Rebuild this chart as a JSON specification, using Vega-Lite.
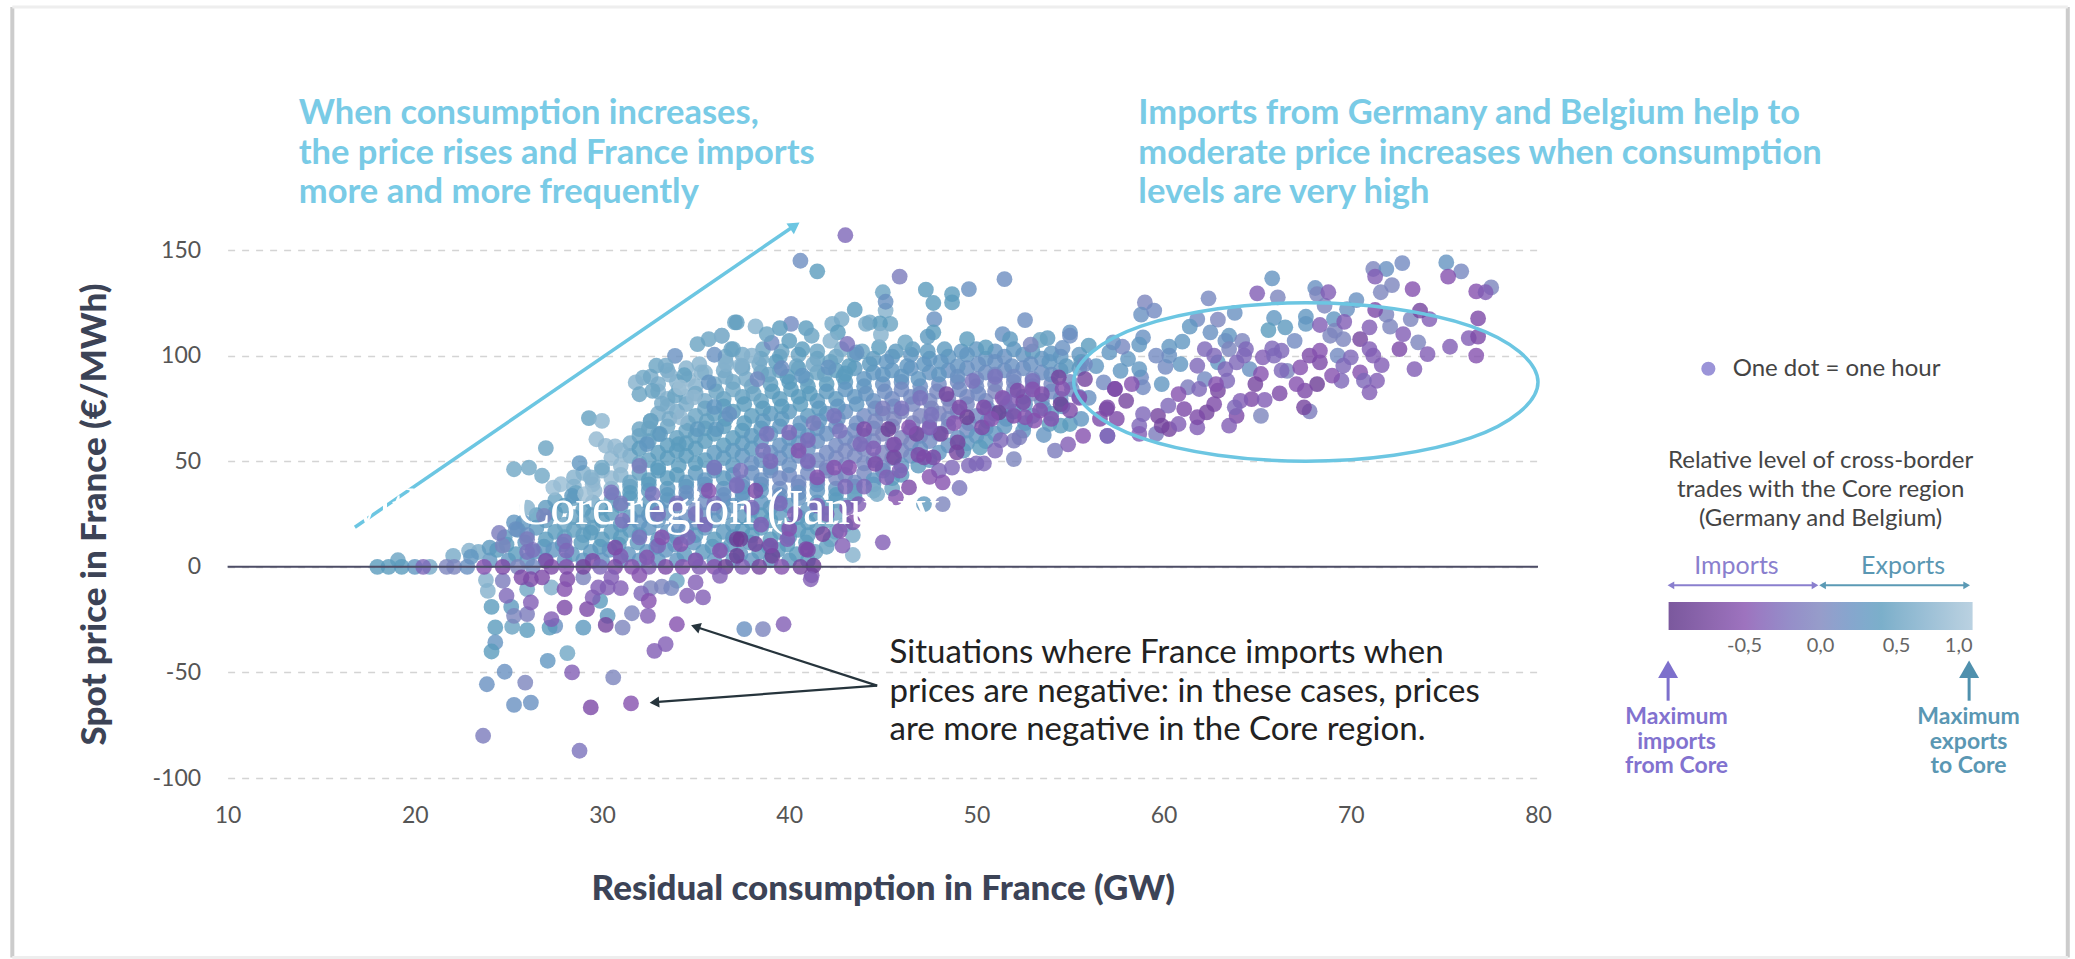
{"$schema":"https://vega.github.io/schema/vega-lite/v6.json","width":1310.4,"height":528,"autosize":{"type":"none"},"padding":{"left":227.6,"top":250,"right":537,"bottom":181},"background":"white",
"config":{"view":{"stroke":null},"font":"Lato","locale":{"number":{"decimal":",","thousands":".","grouping":[3],"currency":["","€"],"minus":"-"}}},
"encoding":{
"x":{"field":"x","type":"quantitative","scale":{"domain":[10,80],"nice":false,"zero":false},"axis":{"title":"Residual consumption in France (GW)","values":[10,20,30,40,50,60,70,80],"grid":false,"domain":false,"ticks":false,"labelFlush":false,"labelFontSize":23,"labelColor":"#555555","labelPadding":26,"titleFontSize":35,"titleFontWeight":900,"titleColor":"#3c4356","titlePadding":44,"labelFont":"Lato","titleFont":"Lato"}},
"y":{"field":"y","type":"quantitative","scale":{"domain":[-100,150],"nice":false,"zero":false},"axis":{"title":"Spot price in France (€/MWh)","values":[-100,-50,0,50,100,150],"grid":true,"gridDash":[7,7],"gridColor":"#d4d4d4","gridWidth":1.5,"domain":false,"ticks":false,"labelFlush":false,"labelFontSize":23,"labelColor":"#555555","labelPadding":27,"titleFontSize":35,"titleFontWeight":900,"titleColor":"#3c4356","titlePadding":40,"labelFont":"Lato","titleFont":"Lato"}}
},
"layer":[
{"data":{"values":[{"x":-1.5,"y":-185,"y2":265},{"x":108.3,"y":-185,"y2":265}]},"mark":{"type":"rule","color":"#cccccc","strokeWidth":4},"encoding":{"y2":{"field":"y2"}}},
{"data":{"values":[{"x":-1.5,"x2":108.3,"y":265},{"x":-1.5,"x2":108.3,"y":-185}]},"mark":{"type":"rule","color":"#eeeeee","strokeWidth":3},"encoding":{"x2":{"field":"x2"}}},
{"data":{"values":[
{"x":36.6,"y":99.5,"c":0.6},{"x":37.5,"y":100.5,"c":0.6},{"x":38.5,"y":98.5,"c":0.55},{"x":39.5,"y":99.5,"c":0.5},{"x":40.5,"y":100.5,"c":0.5},{"x":41.5,"y":98.5,"c":0.5},{"x":42.5,"y":99.5,"c":0.5},{"x":43.5,"y":100.5,"c":0.45},{"x":44.5,"y":98.5,"c":0.35},{"x":45.5,"y":99.5,"c":0.3},{"x":46.5,"y":100.5,"c":0.3},{"x":47.5,"y":98.5,"c":0.3},{"x":48.5,"y":99.5,"c":0.3},{"x":49.5,"y":100.5,"c":0.3},{"x":50.5,"y":98.5,"c":0.25},{"x":51.5,"y":99.5,"c":0.2},{"x":52.5,"y":100.5,"c":0.25},{"x":53.5,"y":98.5,"c":0.25},{"x":54.5,"y":99.5,"c":0.3},{"x":55.5,"y":100.5,"c":0.3},
{"x":33.5,"y":93,"c":0.6},{"x":34.5,"y":94,"c":0.7},{"x":35.5,"y":92,"c":0.7},{"x":36.5,"y":93,"c":0.6},{"x":37.5,"y":94,"c":0.6},{"x":38.5,"y":92,"c":0.5},{"x":39.5,"y":93,"c":0.5},{"x":40.5,"y":94,"c":0.45},{"x":41.5,"y":92,"c":0.5},{"x":42.5,"y":93,"c":0.4},{"x":43.5,"y":94,"c":0.35},{"x":44.5,"y":92,"c":0.3},{"x":45.5,"y":93,"c":0.3},{"x":46.5,"y":94,"c":0.25},{"x":47.5,"y":92,"c":0.25},{"x":48.5,"y":93,"c":0.2},{"x":49.5,"y":94,"c":0.2},{"x":50.5,"y":92,"c":0.15},{"x":51.5,"y":93,"c":0.15},{"x":52.5,"y":94,"c":0.15},{"x":53.5,"y":92,"c":0.15},{"x":54.5,"y":93,"c":0.25},{"x":55.5,"y":94,"c":0.3},
{"x":33,"y":86.5,"c":0.6},{"x":34,"y":87.5,"c":0.7},{"x":35,"y":85.5,"c":0.7},{"x":36,"y":86.5,"c":0.6},{"x":37,"y":87.5,"c":0.55},{"x":38,"y":85.5,"c":0.5},{"x":39,"y":86.5,"c":0.45},{"x":40,"y":87.5,"c":0.4},{"x":41,"y":85.5,"c":0.4},{"x":42,"y":86.5,"c":0.4},{"x":43,"y":87.5,"c":0.35},{"x":44,"y":85.5,"c":0.3},{"x":45,"y":86.5,"c":0.2},{"x":46,"y":87.5,"c":0.2},{"x":47,"y":85.5,"c":0.15},{"x":48,"y":86.5,"c":0.1},{"x":49,"y":87.5,"c":0.1},{"x":50,"y":85.5,"c":0.1},{"x":51,"y":86.5,"c":0.05},{"x":52,"y":87.5,"c":0.05},{"x":53,"y":85.5,"c":0.05},{"x":54,"y":86.5,"c":0.05},{"x":55,"y":87.5,"c":0.1},
{"x":33.5,"y":79.5,"c":0.7},{"x":34.5,"y":80.5,"c":0.7},{"x":35.5,"y":78.5,"c":0.6},{"x":36.5,"y":79.5,"c":0.45},{"x":37.5,"y":80.5,"c":0.45},{"x":38.5,"y":78.5,"c":0.45},{"x":39.5,"y":79.5,"c":0.4},{"x":40.5,"y":80.5,"c":0.4},{"x":41.5,"y":78.5,"c":0.35},{"x":42.5,"y":79.5,"c":0.35},{"x":43.5,"y":80.5,"c":0.3},{"x":44.5,"y":78.5,"c":0.2},{"x":45.5,"y":79.5,"c":0.1},{"x":46.5,"y":80.5,"c":0.1},{"x":47.5,"y":78.5,"c":0.05},{"x":48.5,"y":79.5,"c":0},{"x":49.5,"y":80.5,"c":0.05},{"x":50.5,"y":78.5,"c":0.05},{"x":51.5,"y":79.5,"c":0.1},{"x":52.5,"y":80.5,"c":0.15},{"x":53.5,"y":78.5,"c":0.15},{"x":54.5,"y":79.5,"c":0.2},{"x":55.5,"y":80.5,"c":0.2},
{"x":33,"y":72.5,"c":0.6},{"x":34,"y":73.5,"c":0.6},{"x":35,"y":71.5,"c":0.5},{"x":36,"y":72.5,"c":0.45},{"x":37,"y":73.5,"c":0.4},{"x":38,"y":71.5,"c":0.4},{"x":39,"y":72.5,"c":0.35},{"x":40,"y":73.5,"c":0.35},{"x":41,"y":71.5,"c":0.35},{"x":42,"y":72.5,"c":0.25},{"x":43,"y":73.5,"c":0.2},{"x":44,"y":71.5,"c":0.1},{"x":45,"y":72.5,"c":0.05},{"x":46,"y":73.5,"c":0},{"x":47,"y":71.5,"c":0},{"x":48,"y":72.5,"c":0},{"x":49,"y":73.5,"c":0.05},{"x":50,"y":71.5,"c":0.1},{"x":51,"y":72.5,"c":0.2},{"x":52,"y":73.5,"c":0.3},{"x":53,"y":71.5,"c":0.3},{"x":54,"y":72.5,"c":0.35},
{"x":32.5,"y":65.5,"c":0.5},{"x":33.5,"y":66.5,"c":0.55},{"x":34.5,"y":64.5,"c":0.5},{"x":35.5,"y":65.5,"c":0.45},{"x":36.5,"y":66.5,"c":0.4},{"x":37.5,"y":64.5,"c":0.4},{"x":38.5,"y":65.5,"c":0.35},{"x":39.5,"y":66.5,"c":0.3},{"x":40.5,"y":64.5,"c":0.3},{"x":41.5,"y":65.5,"c":0.25},{"x":42.5,"y":66.5,"c":0.2},{"x":43.5,"y":64.5,"c":0.1},{"x":44.5,"y":65.5,"c":0.05},{"x":45.5,"y":66.5,"c":0},{"x":46.5,"y":64.5,"c":0},{"x":47.5,"y":65.5,"c":0},{"x":48.5,"y":66.5,"c":0.05},{"x":49.5,"y":64.5,"c":0.1},{"x":50.5,"y":65.5,"c":0.2},{"x":51.5,"y":66.5,"c":0.3},{"x":52.5,"y":64.5,"c":0.3},
{"x":31.5,"y":58.5,"c":0.6},{"x":32.5,"y":59.5,"c":0.45},{"x":33.5,"y":57.5,"c":0.4},{"x":34.5,"y":58.5,"c":0.4},{"x":35.5,"y":59.5,"c":0.4},{"x":36.5,"y":57.5,"c":0.4},{"x":37.5,"y":58.5,"c":0.35},{"x":38.5,"y":59.5,"c":0.3},{"x":39.5,"y":57.5,"c":0.25},{"x":40.5,"y":58.5,"c":0.25},{"x":41.5,"y":59.5,"c":0.2},{"x":42.5,"y":57.5,"c":0.1},{"x":43.5,"y":58.5,"c":0.05},{"x":44.5,"y":59.5,"c":0.05},{"x":45.5,"y":57.5,"c":0},{"x":46.5,"y":58.5,"c":0.05},{"x":47.5,"y":59.5,"c":0.1},{"x":48.5,"y":57.5,"c":0.2},{"x":49.5,"y":58.5,"c":0.3},{"x":50.5,"y":59.5,"c":0.35},
{"x":30.5,"y":51.5,"c":0.8},{"x":31.5,"y":52.5,"c":0.6},{"x":32.5,"y":50.5,"c":0.45},{"x":33.5,"y":51.5,"c":0.4},{"x":34.5,"y":52.5,"c":0.4},{"x":35.5,"y":50.5,"c":0.4},{"x":36.5,"y":51.5,"c":0.35},{"x":37.5,"y":52.5,"c":0.3},{"x":38.5,"y":50.5,"c":0.25},{"x":39.5,"y":51.5,"c":0.2},{"x":40.5,"y":52.5,"c":0.15},{"x":41.5,"y":50.5,"c":0.1},{"x":42.5,"y":51.5,"c":0.05},{"x":43.5,"y":52.5,"c":0.05},{"x":44.5,"y":50.5,"c":0.05},{"x":45.5,"y":51.5,"c":0.05},{"x":46.5,"y":52.5,"c":0.15},{"x":47.5,"y":50.5,"c":0.3},
{"x":29,"y":44.5,"c":0.7},{"x":30,"y":45.5,"c":0.75},{"x":31,"y":43.5,"c":0.7},{"x":32,"y":44.5,"c":0.45},{"x":33,"y":45.5,"c":0.4},{"x":34,"y":43.5,"c":0.4},{"x":35,"y":44.5,"c":0.35},{"x":36,"y":45.5,"c":0.3},{"x":37,"y":43.5,"c":0.25},{"x":38,"y":44.5,"c":0.2},{"x":39,"y":45.5,"c":0.15},{"x":40,"y":43.5,"c":0.1},{"x":41,"y":44.5,"c":0.1},{"x":42,"y":45.5,"c":0.05},{"x":43,"y":43.5,"c":0.05},{"x":44,"y":44.5,"c":0.05},{"x":45,"y":45.5,"c":0.2},{"x":46,"y":43.5,"c":0.35},
{"x":28.5,"y":38,"c":0.7},{"x":29.5,"y":39,"c":0.8},{"x":30.5,"y":37,"c":0.75},{"x":31.5,"y":38,"c":0.5},{"x":32.5,"y":39,"c":0.4},{"x":33.5,"y":37,"c":0.35},{"x":34.5,"y":38,"c":0.3},{"x":35.5,"y":39,"c":0.25},{"x":36.5,"y":37,"c":0.25},{"x":37.5,"y":38,"c":0.25},{"x":38.5,"y":39,"c":0.25},{"x":39.5,"y":37,"c":0.15},{"x":40.5,"y":38,"c":0.15},{"x":41.5,"y":39,"c":0.2},{"x":42.5,"y":37,"c":0.25},{"x":43.5,"y":38,"c":0.3},{"x":44.5,"y":39,"c":0.4},{"x":45.5,"y":37,"c":0.5},
{"x":27.5,"y":31.5,"c":0.5},{"x":28.5,"y":32.5,"c":0.5},{"x":29.5,"y":30.5,"c":0.6},{"x":30.5,"y":31.5,"c":0.5},{"x":31.5,"y":32.5,"c":0.4},{"x":32.5,"y":30.5,"c":0.35},{"x":33.5,"y":31.5,"c":0.3},{"x":34.5,"y":32.5,"c":0.25},{"x":35.5,"y":30.5,"c":0.15},{"x":36.5,"y":31.5,"c":0.2},{"x":37.5,"y":32.5,"c":0.3},{"x":38.5,"y":30.5,"c":0.3},{"x":39.5,"y":31.5,"c":0.3},{"x":40.5,"y":32.5,"c":0.25},{"x":41.5,"y":30.5,"c":0.3},{"x":42.5,"y":31.5,"c":0.35},{"x":43.5,"y":32.5,"c":0.5},
{"x":26.5,"y":24.5,"c":0.4},{"x":27.5,"y":25.5,"c":0.4},{"x":28.5,"y":23.5,"c":0.45},{"x":29.5,"y":24.5,"c":0.45},{"x":30.5,"y":25.5,"c":0.4},{"x":31.5,"y":23.5,"c":0.35},{"x":32.5,"y":24.5,"c":0.3},{"x":33.5,"y":25.5,"c":0.25},{"x":34.5,"y":23.5,"c":0.2},{"x":35.5,"y":24.5,"c":0.2},{"x":36.5,"y":25.5,"c":0.3},{"x":37.5,"y":23.5,"c":0.35},{"x":38.5,"y":24.5,"c":0.4},{"x":39.5,"y":25.5,"c":0.35},{"x":40.5,"y":23.5,"c":0.35},{"x":41.5,"y":24.5,"c":0.4},{"x":42.5,"y":25.5,"c":0.55},
{"x":25.5,"y":17.5,"c":0.3},{"x":26.5,"y":18.5,"c":0.35},{"x":27.5,"y":16.5,"c":0.4},{"x":28.5,"y":17.5,"c":0.45},{"x":29.5,"y":18.5,"c":0.45},{"x":30.5,"y":16.5,"c":0.4},{"x":31.5,"y":17.5,"c":0.35},{"x":32.5,"y":18.5,"c":0.3},{"x":33.5,"y":16.5,"c":0.3},{"x":34.5,"y":17.5,"c":0.25},{"x":35.5,"y":18.5,"c":0.3},{"x":36.5,"y":16.5,"c":0.35},{"x":37.5,"y":17.5,"c":0.4},{"x":38.5,"y":18.5,"c":0.4},{"x":39.5,"y":16.5,"c":0.4},{"x":40.5,"y":17.5,"c":0.4},{"x":41.5,"y":18.5,"c":0.45},{"x":42.5,"y":16.5,"c":0.55},
{"x":24.9,"y":10.5,"c":0.4},{"x":25.9,"y":11.5,"c":0.35},{"x":26.9,"y":9.5,"c":0.3},{"x":27.9,"y":10.5,"c":0.35},{"x":28.9,"y":11.5,"c":0.4},{"x":29.9,"y":9.5,"c":0.4},{"x":30.9,"y":10.5,"c":0.35},{"x":31.9,"y":11.5,"c":0.35},{"x":32.9,"y":9.5,"c":0.3},{"x":33.9,"y":10.5,"c":0.3},{"x":34.9,"y":11.5,"c":0.3},{"x":35.9,"y":9.5,"c":0.35},{"x":36.9,"y":10.5,"c":0.35},{"x":37.9,"y":11.5,"c":0.35},{"x":38.9,"y":9.5,"c":0.4},{"x":39.9,"y":10.5,"c":0.4},{"x":40.9,"y":11.5,"c":0.4},{"x":42,"y":9.5,"c":0.45},
{"x":24,"y":3,"c":0.3},{"x":25,"y":3,"c":0.3},{"x":26,"y":3,"c":0.3},{"x":27,"y":3,"c":0.3},{"x":28,"y":3,"c":0.3},{"x":29,"y":3,"c":0.3},{"x":30,"y":3,"c":0.3},{"x":31,"y":3,"c":0.3},{"x":32,"y":3,"c":0.3},{"x":33,"y":3,"c":0.3},{"x":34,"y":3,"c":0.3},{"x":35,"y":3,"c":0.3},{"x":36,"y":3,"c":0.3},{"x":37,"y":3,"c":0.3},{"x":38,"y":3,"c":0.3},{"x":39,"y":3,"c":0.3},{"x":40,"y":3,"c":0.35},{"x":41,"y":3,"c":0.4},
{"x":38.6,"y":103,"c":0.5},{"x":39.6,"y":102,"c":0.5},{"x":40.7,"y":103,"c":0.4},{"x":41.5,"y":102,"c":0.5},{"x":42.8,"y":103,"c":0.6},{"x":43.9,"y":102,"c":0.5},{"x":44.8,"y":104,"c":0.4},{"x":45.7,"y":102,"c":0.35},{"x":46.6,"y":103,"c":0.35},{"x":47.4,"y":102,"c":0.35},{"x":48.3,"y":103,"c":0.35},{"x":49.2,"y":102,"c":0.3},{"x":50,"y":103,"c":0.3},{"x":51,"y":102,"c":0.25},{"x":52,"y":103,"c":0.3},{"x":53,"y":102,"c":0.35},{"x":54,"y":101,"c":0.3},
{"x":35.2,"y":96,"c":0.7},{"x":36.6,"y":97,"c":0.7},{"x":37.5,"y":95,"c":0.6},{"x":38.4,"y":96,"c":0.6},{"x":39.3,"y":97,"c":0.4},{"x":40.4,"y":95,"c":0.5},{"x":41.3,"y":96,"c":0.6},{"x":42.2,"y":97,"c":0.5},{"x":43.2,"y":95,"c":0.4},{"x":44.3,"y":96,"c":0.35},{"x":45.2,"y":97,"c":0.3},{"x":46.3,"y":95,"c":0.3},{"x":47.2,"y":96,"c":0.3},{"x":48.1,"y":97,"c":0.3},{"x":49,"y":95,"c":0.25},{"x":50.1,"y":96,"c":0.2},{"x":51,"y":97,"c":0.2},{"x":51.9,"y":95,"c":0.2},{"x":52.9,"y":96,"c":0.2},{"x":53.9,"y":97,"c":0.3},{"x":54.8,"y":95,"c":0.35},{"x":55.6,"y":97,"c":0.35},
{"x":32.6,"y":90,"c":0.6},{"x":33.6,"y":91,"c":0.7},{"x":34.6,"y":89,"c":0.8},{"x":36.6,"y":90,"c":0.6},{"x":37.7,"y":89,"c":0.6},{"x":38.9,"y":91,"c":0.5},{"x":39.9,"y":90,"c":0.4},{"x":40.9,"y":89,"c":0.5},{"x":41.9,"y":91,"c":0.5},{"x":42.9,"y":90,"c":0.4},{"x":44,"y":89,"c":0.3},{"x":45,"y":91,"c":0.3},{"x":46,"y":90,"c":0.3},{"x":46.9,"y":89,"c":0.3},{"x":48,"y":91,"c":0.3},{"x":49,"y":90,"c":0.2},{"x":50,"y":89,"c":0.1},{"x":51,"y":91,"c":0.1},{"x":52,"y":90,"c":0.1},{"x":53,"y":89,"c":0.1},{"x":54,"y":91,"c":0.2},
{"x":33,"y":83,"c":0.7},{"x":34.1,"y":84,"c":0.7},{"x":35,"y":82,"c":0.6},{"x":36.1,"y":83,"c":0.5},{"x":37,"y":84,"c":0.55},{"x":38.1,"y":82,"c":0.5},{"x":39.1,"y":83,"c":0.4},{"x":40.1,"y":84,"c":0.4},{"x":41.1,"y":82,"c":0.4},{"x":42,"y":83,"c":0.35},{"x":43,"y":84,"c":0.3},{"x":44.1,"y":82,"c":0.25},{"x":45.1,"y":83,"c":0.15},{"x":46,"y":84,"c":0.1},{"x":47,"y":82,"c":0.1},{"x":47.9,"y":83,"c":0.05},{"x":49.1,"y":84,"c":0.1},{"x":50.1,"y":82,"c":0.1},{"x":51,"y":83,"c":0},{"x":52,"y":84,"c":0.05},{"x":53,"y":82,"c":0},{"x":54,"y":83,"c":0.1},{"x":55.1,"y":84,"c":0.1},
{"x":33.5,"y":76,"c":0.7},{"x":34.5,"y":77,"c":0.6},{"x":35.5,"y":75,"c":0.5},{"x":36.5,"y":76,"c":0.4},{"x":37.6,"y":77,"c":0.4},{"x":38.6,"y":75,"c":0.4},{"x":39.6,"y":76,"c":0.4},{"x":40.6,"y":77,"c":0.4},{"x":41.6,"y":75,"c":0.35},{"x":42.6,"y":76,"c":0.3},{"x":43.6,"y":77,"c":0.3},{"x":44.6,"y":75,"c":0.15},{"x":45.6,"y":76,"c":0.1},{"x":46.6,"y":77,"c":0.05},{"x":47.6,"y":75,"c":0},{"x":48.6,"y":76,"c":0},{"x":49.5,"y":77,"c":0.05},{"x":50.6,"y":75,"c":0.1},{"x":51.6,"y":76,"c":0.2},{"x":52.6,"y":77,"c":0.25},{"x":53.6,"y":75,"c":0.25},{"x":54.6,"y":76,"c":0.3},
{"x":32.6,"y":69,"c":0.5},{"x":33.6,"y":70,"c":0.6},{"x":34.6,"y":68,"c":0.5},{"x":35.6,"y":69,"c":0.45},{"x":36.6,"y":70,"c":0.4},{"x":37.6,"y":68,"c":0.4},{"x":38.6,"y":69,"c":0.35},{"x":39.6,"y":70,"c":0.35},{"x":40.6,"y":68,"c":0.3},{"x":41.6,"y":69,"c":0.3},{"x":42.6,"y":70,"c":0.2},{"x":43.6,"y":68,"c":0.15},{"x":44.6,"y":69,"c":0.05},{"x":45.6,"y":70,"c":0},{"x":46.6,"y":68,"c":0},{"x":47.5,"y":69,"c":0},{"x":48.5,"y":70,"c":0.05},{"x":49.6,"y":68,"c":0.1},{"x":50.6,"y":69,"c":0.2},{"x":51.6,"y":70,"c":0.3},{"x":52.6,"y":68,"c":0.3},
{"x":32,"y":62,"c":0.5},{"x":33,"y":63,"c":0.5},{"x":34,"y":61,"c":0.45},{"x":35,"y":62,"c":0.45},{"x":36,"y":63,"c":0.4},{"x":37,"y":61,"c":0.4},{"x":38,"y":62,"c":0.35},{"x":39,"y":63,"c":0.3},{"x":40,"y":61,"c":0.3},{"x":41,"y":62,"c":0.3},{"x":42,"y":63,"c":0.2},{"x":43,"y":61,"c":0.1},{"x":44,"y":62,"c":0.05},{"x":45,"y":63,"c":0},{"x":46,"y":61,"c":0},{"x":47,"y":62,"c":0.05},{"x":48,"y":63,"c":0.1},{"x":49,"y":61,"c":0.2},{"x":50,"y":62,"c":0.3},{"x":51,"y":63,"c":0.3},
{"x":31,"y":55,"c":0.7},{"x":32,"y":56,"c":0.4},{"x":33,"y":54,"c":0.4},{"x":34,"y":55,"c":0.4},{"x":35,"y":56,"c":0.4},{"x":36,"y":54,"c":0.35},{"x":37,"y":55,"c":0.35},{"x":38,"y":56,"c":0.35},{"x":39,"y":54,"c":0.2},{"x":40,"y":55,"c":0.25},{"x":41,"y":56,"c":0.2},{"x":42,"y":54,"c":0.1},{"x":43,"y":55,"c":0.05},{"x":44,"y":56,"c":0.05},{"x":45,"y":54,"c":0},{"x":46,"y":55,"c":0.05},{"x":47,"y":56,"c":0.2},{"x":48,"y":54,"c":0.3},{"x":49.3,"y":55,"c":0.35},
{"x":31,"y":48,"c":0.8},{"x":32,"y":49,"c":0.5},{"x":33,"y":47,"c":0.4},{"x":34.1,"y":48,"c":0.4},{"x":35,"y":49,"c":0.4},{"x":36,"y":47,"c":0.35},{"x":37,"y":48,"c":0.35},{"x":38,"y":49,"c":0.2},{"x":39,"y":47,"c":0.2},{"x":40,"y":48,"c":0.2},{"x":41,"y":49,"c":0.1},{"x":42,"y":47,"c":0.05},{"x":43,"y":48,"c":0.05},{"x":44,"y":49,"c":0.05},{"x":45,"y":47,"c":0.1},{"x":46,"y":48,"c":0.3},
{"x":29.5,"y":41,"c":0.8},{"x":30.5,"y":42,"c":0.8},{"x":31.5,"y":40,"c":0.5},{"x":32.5,"y":41,"c":0.4},{"x":33.5,"y":42,"c":0.4},{"x":34.5,"y":40,"c":0.35},{"x":35.5,"y":41,"c":0.3},{"x":36.5,"y":42,"c":0.35},{"x":37.5,"y":40,"c":0.2},{"x":38.5,"y":41,"c":0.2},{"x":39.5,"y":42,"c":0.1},{"x":40.5,"y":40,"c":0.1},{"x":41.5,"y":41,"c":0.1},{"x":42.5,"y":42,"c":0.05},{"x":43.5,"y":40,"c":0.1},{"x":44.5,"y":41,"c":0.3},{"x":45.5,"y":42,"c":0.4},
{"x":28.6,"y":35,"c":0.5},{"x":29.6,"y":36,"c":0.8},{"x":30.6,"y":34,"c":0.55},{"x":31.5,"y":35,"c":0.4},{"x":32.5,"y":36,"c":0.35},{"x":33.5,"y":34,"c":0.35},{"x":34.5,"y":35,"c":0.2},{"x":35.5,"y":36,"c":0.15},{"x":36.5,"y":34,"c":0.2},{"x":37.5,"y":35,"c":0.3},{"x":38.5,"y":36,"c":0.3},{"x":39.5,"y":34,"c":0.2},{"x":40.5,"y":35,"c":0.2},{"x":41.5,"y":36,"c":0.3},{"x":42.5,"y":34,"c":0.4},{"x":43.5,"y":35,"c":0.5},{"x":44.5,"y":36,"c":0.7},
{"x":27,"y":28,"c":0.35},{"x":28,"y":29,"c":0.4},{"x":29,"y":27,"c":0.4},{"x":30,"y":28,"c":0.45},{"x":31,"y":29,"c":0.4},{"x":32,"y":27,"c":0.35},{"x":33,"y":28,"c":0.3},{"x":34,"y":29,"c":0.2},{"x":35,"y":27,"c":0.1},{"x":36,"y":28,"c":0.15},{"x":37,"y":29,"c":0.3},{"x":38,"y":27,"c":0.35},{"x":39,"y":28,"c":0.35},{"x":40,"y":29,"c":0.3},{"x":41,"y":27,"c":0.3},{"x":42,"y":28,"c":0.4},{"x":43,"y":29,"c":0.6},
{"x":25.8,"y":21,"c":0.3},{"x":27,"y":22,"c":0.35},{"x":28,"y":20,"c":0.5},{"x":29,"y":21,"c":0.5},{"x":30,"y":22,"c":0.4},{"x":31,"y":20,"c":0.35},{"x":32,"y":21,"c":0.3},{"x":33,"y":22,"c":0.3},{"x":34,"y":20,"c":0.2},{"x":35,"y":21,"c":0.2},{"x":36,"y":22,"c":0.3},{"x":37,"y":20,"c":0.35},{"x":38,"y":21,"c":0.4},{"x":39,"y":22,"c":0.4},{"x":40,"y":20,"c":0.4},{"x":41,"y":21,"c":0.4},{"x":42,"y":22,"c":0.5},{"x":43,"y":20,"c":0.6},
{"x":24.8,"y":14,"c":0.35},{"x":26,"y":15,"c":0.2},{"x":27,"y":13,"c":0.4},{"x":28,"y":14,"c":0.45},{"x":29,"y":15,"c":0.45},{"x":30,"y":13,"c":0.4},{"x":31,"y":14,"c":0.4},{"x":32,"y":15,"c":0.35},{"x":33,"y":13,"c":0.35},{"x":34,"y":14,"c":0.3},{"x":35,"y":15,"c":0.35},{"x":36,"y":13,"c":0.4},{"x":37,"y":14,"c":0.35},{"x":38,"y":15,"c":0.4},{"x":39,"y":13,"c":0.4},{"x":40,"y":14,"c":0.4},{"x":41,"y":15,"c":0.4},{"x":42.2,"y":13,"c":0.5},
{"x":23.4,"y":7,"c":0.6},{"x":24.4,"y":8,"c":0.4},{"x":25.4,"y":6,"c":0.4},{"x":26.4,"y":7,"c":0.3},{"x":27.4,"y":8,"c":0.3},{"x":28.4,"y":6,"c":0.35},{"x":29.4,"y":7,"c":0.35},{"x":30.4,"y":8,"c":0.3},{"x":31.4,"y":6,"c":0.3},{"x":32.4,"y":7,"c":0.3},{"x":33.4,"y":8,"c":0.3},{"x":34.4,"y":6,"c":0.35},{"x":35.4,"y":7,"c":0.35},{"x":36.4,"y":8,"c":0.3},{"x":37.4,"y":6,"c":0.3},{"x":38.4,"y":7,"c":0.35},{"x":39.4,"y":8,"c":0.4},{"x":40.4,"y":6,"c":0.4},{"x":41.4,"y":7,"c":0.5},
{"x":22.05,"y":5.2,"c":0.6},{"x":22.9,"y":7.6,"c":0.7},{"x":23,"y":4.7,"c":0.3},{"x":24,"y":9.1,"c":0.35},{"x":19.1,"y":3.1,"c":0.5},{"x":18,"y":0,"c":0.4},{"x":18.6,"y":0,"c":0.4},{"x":19.3,"y":0,"c":0.4},{"x":20,"y":0,"c":0.3},{"x":20.8,"y":0,"c":0.6},{"x":21.7,"y":0,"c":0},{"x":22.1,"y":0,"c":0},{"x":22.8,"y":0,"c":0.2},
{"x":29.3,"y":70.4,"c":0.45},{"x":30,"y":69.1,"c":0.75},{"x":29.7,"y":60.4,"c":0.8},{"x":30.2,"y":57.3,"c":0.8},{"x":30.7,"y":57,"c":0.8},{"x":27,"y":56.2,"c":0.5},{"x":25.3,"y":46.2,"c":0.55},{"x":26.1,"y":47,"c":0.55},{"x":26.8,"y":43.1,"c":0.55},{"x":28.8,"y":49.1,"c":0.3},{"x":30,"y":47,"c":0.55},{"x":27.8,"y":39.1,"c":0.85},{"x":27.4,"y":37.5,"c":0.85},{"x":28.4,"y":33.6,"c":0.35},{"x":29.1,"y":34.4,"c":0.9},{"x":28.5,"y":42.3,"c":0.7},{"x":29.4,"y":42.3,"c":0.7},{"x":26,"y":28,"c":0.7},{"x":25.3,"y":21,"c":0.3},{"x":25.4,"y":17.8,"c":0.2},
{"x":33.9,"y":99.9,"c":0.2},{"x":36.4,"y":109.4,"c":0.6},{"x":35.7,"y":107.8,"c":0.5},{"x":35.1,"y":105.4,"c":0.5},{"x":37.1,"y":115.7,"c":0.5},{"x":36,"y":100.4,"c":0.2},{"x":36.9,"y":103,"c":0.5},{"x":32.9,"y":95.2,"c":0.5},{"x":33.4,"y":95.2,"c":0.6},{"x":32.2,"y":89.6,"c":0.55},{"x":31.8,"y":87.3,"c":0.7},{"x":34.4,"y":90.7,"c":0.45},{"x":35.3,"y":92,"c":0.7},{"x":35.7,"y":87.3,"c":0.25},{"x":32,"y":81.7,"c":0.5},{"x":32.7,"y":83.3,"c":0.5},{"x":33.9,"y":81,"c":0.5},{"x":33.2,"y":77.3,"c":0.6},{"x":36,"y":75.7,"c":0.3},{"x":34.2,"y":84.9,"c":0.9},{"x":34.9,"y":80.2,"c":0.8},{"x":36.8,"y":72.3,"c":0.2},{"x":32.6,"y":69.1,"c":0.5},{"x":33.1,"y":62.8,"c":0.35},{"x":32.4,"y":58.1,"c":0.3},{"x":32,"y":65.2,"c":0.5},{"x":34.1,"y":58.1,"c":0.4},{"x":35.1,"y":65.2,"c":0.35},{"x":36.1,"y":65.2,"c":0.35},{"x":34.2,"y":70.7,"c":0.8},
{"x":40.6,"y":144.9,"c":0.15},{"x":41.5,"y":139.9,"c":0.4},{"x":51.5,"y":136.2,"c":0.15},{"x":49.6,"y":131.5,"c":0.2},{"x":47.3,"y":131.2,"c":0.4},{"x":48.7,"y":129.1,"c":0.4},{"x":48.7,"y":125.2,"c":0.4},{"x":47.7,"y":124.9,"c":0.4},{"x":45,"y":130,"c":0.5},{"x":45.15,"y":121.3,"c":0.7},{"x":45.15,"y":125.5,"c":0.2},{"x":43.5,"y":121.7,"c":0.4},{"x":52.6,"y":116.8,"c":0.15},{"x":55,"y":111,"c":0.25},{"x":55,"y":109.4,"c":0.15},{"x":47.75,"y":117.3,"c":0.2},{"x":47.7,"y":111,"c":0.4},{"x":37.2,"y":115.7,"c":0.45},{"x":38.2,"y":113.8,"c":0.7},{"x":40.1,"y":115,"c":0.1},{"x":39.5,"y":113,"c":0.4},{"x":40.9,"y":113,"c":0.4},{"x":41.2,"y":109.4,"c":0.5},{"x":42.8,"y":117.3,"c":0.6},{"x":42.3,"y":115,"c":0.6},{"x":44.3,"y":115.7,"c":0.6},{"x":45.4,"y":115,"c":0.5},{"x":44.85,"y":115.3,"c":0.4},{"x":44.1,"y":115,"c":0.6},{"x":44.9,"y":109.9,"c":0.7},{"x":42.6,"y":111,"c":0.4},{"x":42.2,"y":107,"c":0.7},{"x":39.06,"y":106,"c":0.1},{"x":40,"y":107,"c":0.4},{"x":38.8,"y":110.2,"c":0.5},{"x":36.4,"y":109.4,"c":0.7},{"x":46.2,"y":106.3,"c":0.5},{"x":47.4,"y":109,"c":0.35},{"x":49.5,"y":107.8,"c":0.4},{"x":50.5,"y":103.9,"c":0.4},{"x":51.4,"y":110.2,"c":0.2},{"x":51.8,"y":107.8,"c":0.35},{"x":53.8,"y":108.3,"c":0.35},{"x":53.4,"y":107.4,"c":0.5},{"x":54.6,"y":103.6,"c":0.2},{"x":56,"y":104.7,"c":0.4},{"x":37,"y":103.1,"c":0.5},{"x":38,"y":100,"c":0.7},{"x":39.6,"y":94,"c":0.15},{"x":38.3,"y":88.9,"c":0.1},{"x":40.7,"y":90.5,"c":0.3},{"x":43,"y":91.6,"c":0.4},{"x":43.6,"y":101.5,"c":0.25},{"x":42.1,"y":94.4,"c":0.25},{"x":37.4,"y":95.2,"c":0.7},{"x":36.65,"y":96,"c":0.7},
{"x":53.9,"y":67.6,"c":0.4},{"x":55,"y":67.6,"c":0.4},{"x":55.6,"y":70,"c":0.3},{"x":54.5,"y":66.8,"c":0.4},{"x":53.6,"y":62.4,"c":0.25},{"x":50.2,"y":56.5,"c":0.4},{"x":46.9,"y":47.9,"c":0.35},{"x":44.7,"y":34.4,"c":0.6},{"x":47.2,"y":29.7,"c":0.35},{"x":43.4,"y":5.6,"c":0.7},{"x":29.4,"y":16.2,"c":0.4},{"x":43.4,"y":15,"c":0.6},
{"x":23.8,"y":-6.3,"c":0.7},{"x":23.9,"y":-11.4,"c":0.7},{"x":26,"y":-10.6,"c":0.55},{"x":27.3,"y":-9.8,"c":0.65},{"x":34,"y":-6.6,"c":0.5},{"x":24.1,"y":-19,"c":0.4},{"x":25.15,"y":-19,"c":0.35},{"x":29.9,"y":-16.1,"c":0.4},{"x":30.3,"y":-23.2,"c":0.35},{"x":24.3,"y":-28.7,"c":0.4},{"x":25.2,"y":-28.4,"c":0.5},{"x":26,"y":-30,"c":0.4},{"x":27.5,"y":-28,"c":0.2},{"x":27.2,"y":-28.8,"c":0.4},{"x":29,"y":-28.8,"c":0.35},{"x":24.3,"y":-35.8,"c":0.25},{"x":24.1,"y":-40.1,"c":0.4},{"x":27.1,"y":-44.5,"c":0.3},{"x":28.15,"y":-40.9,"c":0.55},{"x":24.8,"y":-49.7,"c":0.2},{"x":23.85,"y":-55.6,"c":0.2},{"x":25.3,"y":-65.4,"c":0.2},{"x":26.2,"y":-64.3,"c":0.2},{"x":37.6,"y":-29.5,"c":0.2},
{"x":72.75,"y":143.8,"c":0.1},{"x":75.1,"y":144.1,"c":0.25},{"x":75.9,"y":139.9,"c":0.05},{"x":71.2,"y":141,"c":0},{"x":71.9,"y":141,"c":0.2},{"x":72.2,"y":133.4,"c":0},{"x":71.6,"y":130,"c":0},{"x":77.5,"y":132.3,"c":0},{"x":73.6,"y":106.3,"c":0},{"x":73.2,"y":117.3,"c":0},{"x":72.1,"y":113.7,"c":0},{"x":71.9,"y":119.4,"c":0},{"x":70.3,"y":126.3,"c":0.2},{"x":69.8,"y":122,"c":0.2},{"x":69.1,"y":117.3,"c":0.3},{"x":68.1,"y":132,"c":0.2},{"x":68.2,"y":129.1,"c":0},{"x":68.6,"y":123.6,"c":0},{"x":65.8,"y":136.6,"c":0.25},{"x":66.1,"y":127.6,"c":0},{"x":62.4,"y":127.1,"c":0.05},{"x":63.8,"y":120.2,"c":0.2},{"x":62.9,"y":117,"c":0},{"x":61.8,"y":117.3,"c":0.1},{"x":65.9,"y":117.8,"c":0.3},{"x":67.6,"y":118.4,"c":0.3},{"x":66.5,"y":113.4,"c":0.35},{"x":65.6,"y":112.1,"c":0.4},{"x":67.6,"y":115,"c":0.3},{"x":59,"y":125.2,"c":0},{"x":58.8,"y":119.4,"c":0.2},{"x":59.5,"y":121.3,"c":0.1},{"x":58.9,"y":108.6,"c":0.2},{"x":61.4,"y":113.7,"c":0.3},{"x":62.5,"y":111,"c":0.2},{"x":63.5,"y":109.4,"c":0.3},{"x":63.3,"y":107,"c":0.2},{"x":61,"y":106.6,"c":0.3},{"x":60.3,"y":104.2,"c":0.3},{"x":64.2,"y":107,"c":0},{"x":63.5,"y":103.1,"c":0},{"x":67,"y":107,"c":0.1},{"x":68.9,"y":109.4,"c":0},{"x":69.6,"y":107.8,"c":0},{"x":69.15,"y":111.8,"c":0},{"x":69.3,"y":100,"c":0.1},{"x":66.6,"y":92.8,"c":0},{"x":67.8,"y":73.6,"c":-0.1},{"x":65.2,"y":71.5,"c":0},{"x":61.3,"y":85,"c":-0.1},{"x":62.2,"y":88.9,"c":0.1},{"x":60.9,"y":96,"c":0.3},{"x":60.1,"y":94.7,"c":0.1},{"x":60.3,"y":100,"c":0.2},{"x":59.9,"y":86.5,"c":0.3},{"x":59.6,"y":62.9,"c":-0.1},{"x":58.9,"y":85,"c":0.1},{"x":58.8,"y":89.7,"c":0.1},{"x":57.7,"y":92.8,"c":0.3},{"x":58.7,"y":93.6,"c":0.3},{"x":56.8,"y":87.3,"c":0.1},{"x":58.1,"y":98.4,"c":0.3},{"x":57.1,"y":101.5,"c":0.3},{"x":57.8,"y":104.2,"c":0.05},{"x":58.7,"y":105.2,"c":0.3},{"x":57.3,"y":106.3,"c":0.2},{"x":59.6,"y":100,"c":0.1},{"x":62.9,"y":96.8,"c":0.3},{"x":64.6,"y":93.6,"c":0.2},{"x":56.4,"y":95,"c":0.3},{"x":56,"y":80,"c":0.2},{"x":55.8,"y":96,"c":0.1},
{"x":32,"y":47.8,"c":-0.1},{"x":26.9,"y":24.1,"c":0},{"x":24.7,"y":10,"c":0},{"x":26,"y":13.1,"c":-0.1},{"x":23.65,"y":-80,"c":-0.1},{"x":28.8,"y":-87.1,"c":-0.2},{"x":25.9,"y":-54.8,"c":0},{"x":30.6,"y":-52.4,"c":0},{"x":38.6,"y":-29.5,"c":0},{"x":31.1,"y":-28.8,"c":0},{"x":31.6,"y":-22,"c":0},{"x":25.3,"y":-23.2,"c":0},{"x":26,"y":-22.4,"c":-0.1},{"x":24.7,"y":-6.6,"c":-0.1},{"x":32.6,"y":-10.1,"c":0},{"x":33.2,"y":-9.4,"c":0},{"x":33.7,"y":-10.1,"c":0.05},{"x":29,"y":-5,"c":0},
{"x":45.9,"y":137.4,"c":-0.1},{"x":43.1,"y":105.5,"c":-0.2},{"x":52.9,"y":105.2,"c":0},{"x":54.2,"y":55,"c":-0.1},{"x":52,"y":51,"c":0},{"x":52.3,"y":61.3,"c":-0.1},{"x":52,"y":59.7,"c":-0.1},{"x":49.1,"y":37.3,"c":-0.15},{"x":48.2,"y":29.7,"c":0},
{"x":51,"y":55,"c":-0.3},{"x":51.3,"y":60,"c":-0.3},{"x":49.6,"y":47.9,"c":-0.3},{"x":50,"y":48.9,"c":-0.3},{"x":50.4,"y":48.9,"c":-0.3},{"x":48.7,"y":47,"c":-0.3},{"x":48,"y":45.5,"c":-0.3},{"x":54.9,"y":58,"c":-0.4},{"x":55.7,"y":62,"c":-0.5},{"x":57,"y":62,"c":-0.3},{"x":47.5,"y":42.6,"c":-0.5},{"x":48.2,"y":40,"c":-0.5},{"x":47.2,"y":51.8,"c":-0.6},{"x":47.7,"y":51.8,"c":-0.6},{"x":46.4,"y":37.6,"c":-0.6},{"x":45.7,"y":32.9,"c":-0.5},{"x":45.6,"y":51.8,"c":-0.7},{"x":45.9,"y":45.5,"c":-0.4},{"x":45.2,"y":42.3,"c":-0.4},{"x":45,"y":11.6,"c":-0.4},{"x":42.85,"y":10,"c":-0.4},{"x":41.2,"y":-4,"c":-0.4},{"x":40.9,"y":8.4,"c":-0.6},{"x":43.7,"y":29.7,"c":-0.4},{"x":43.1,"y":28,"c":-0.4},{"x":43.4,"y":21,"c":-0.6},{"x":41.8,"y":15.5,"c":-0.7},{"x":42.7,"y":17,"c":-0.5},{"x":39.9,"y":13.1,"c":-0.4},{"x":37.4,"y":13.1,"c":-0.8},{"x":38.2,"y":10.8,"c":-0.7},{"x":39.1,"y":5.2,"c":-0.8},{"x":37.2,"y":38.4,"c":-0.3},{"x":38.2,"y":36,"c":-0.6},{"x":40.5,"y":55,"c":-0.5},{"x":41.5,"y":42.3,"c":-0.5},{"x":42.4,"y":47,"c":-0.5},{"x":43.2,"y":47,"c":-0.5},{"x":44,"y":65.2,"c":-0.6},{"x":45.3,"y":65.2,"c":-0.8},{"x":46.8,"y":62.9,"c":-0.7},{"x":48.1,"y":62.9,"c":-0.7},{"x":49,"y":58.9,"c":-0.7},{"x":48.95,"y":54.2,"c":-0.7},{"x":44.6,"y":48.7,"c":-0.6},{"x":45.6,"y":58,"c":-0.6},{"x":46.9,"y":53,"c":-0.6},{"x":48.4,"y":81.8,"c":-0.7},{"x":49.5,"y":70.8,"c":-0.8},{"x":50.3,"y":66,"c":-0.6},{"x":51.2,"y":73.1,"c":-0.8},{"x":52,"y":71.5,"c":-0.6},{"x":52.6,"y":70.8,"c":-0.5},{"x":53.1,"y":69.2,"c":-0.5},{"x":52.2,"y":83.4,"c":-0.6},{"x":53.5,"y":81.8,"c":-0.6},{"x":54.4,"y":89.7,"c":-0.7},{"x":54.5,"y":77,"c":-0.8},{"x":54.6,"y":84.2,"c":-0.5},{"x":55.8,"y":88.9,"c":-0.7},{"x":56.95,"y":74.7,"c":-0.7},{"x":57.4,"y":84.2,"c":-0.6},{"x":56.6,"y":70,"c":-0.6},{"x":51.4,"y":80,"c":-0.5},{"x":50.4,"y":75.5,"c":-0.6},{"x":49.1,"y":75.5,"c":-0.6},{"x":49.8,"y":88,"c":-0.2},{"x":51,"y":90,"c":-0.2},{"x":53,"y":88,"c":-0.2},
{"x":50.8,"y":70,"c":-0.5},{"x":51.8,"y":78,"c":-0.4},{"x":53.4,"y":74,"c":-0.5},{"x":55,"y":74,"c":-0.6},{"x":55.5,"y":80,"c":-0.5},{"x":54,"y":70,"c":-0.5},{"x":52.5,"y":78,"c":-0.6},{"x":53,"y":84,"c":-0.5},{"x":47,"y":80,"c":-0.2},{"x":46,"y":75,"c":-0.2},{"x":47.5,"y":66,"c":-0.4},{"x":48.8,"y":68,"c":-0.5},{"x":44.5,"y":56,"c":-0.4},{"x":41,"y":60,"c":-0.3},{"x":39,"y":50,"c":-0.3},{"x":41,"y":50,"c":-0.3},{"x":43,"y":38,"c":-0.3},{"x":38,"y":28,"c":-0.3},{"x":36,"y":30,"c":-0.2},{"x":34,"y":30,"c":-0.2},{"x":31,"y":30,"c":-0.1},{"x":42,"y":25,"c":-0.4},{"x":44,"y":38,"c":-0.3},{"x":39,"y":10,"c":-0.6},{"x":41,"y":8,"c":-0.6},{"x":35,"y":3,"c":-0.5},{"x":33,"y":10,"c":-0.3},{"x":31,"y":5,"c":-0.4},{"x":28,"y":12,"c":-0.2},{"x":26,"y":7,"c":-0.2},
{"x":42.4,"y":71.5,"c":-0.2},{"x":40,"y":63.6,"c":-0.3},{"x":38.8,"y":62.9,"c":-0.2},{"x":38.6,"y":55,"c":-0.2},{"x":37.4,"y":45.5,"c":-0.2},{"x":42.7,"y":64.4,"c":-0.2},{"x":43.8,"y":58.1,"c":-0.3},{"x":46.4,"y":66,"c":-0.5},{"x":40.3,"y":25,"c":-0.4},{"x":37.2,"y":39,"c":-0.2},{"x":33.2,"y":13.9,"c":-0.5},{"x":34.2,"y":10.7,"c":-0.5},{"x":37.2,"y":13.1,"c":-0.8},{"x":30.7,"y":9.1,"c":-0.6},{"x":28.1,"y":7.6,"c":-0.3},{"x":31.1,"y":21.8,"c":-0.2},{"x":32,"y":13.9,"c":-0.2},{"x":36.3,"y":7.6,"c":-0.5},{"x":34.6,"y":14,"c":-0.3},{"x":32.4,"y":4.4,"c":-0.5},{"x":29.5,"y":2.8,"c":-0.6},{"x":27,"y":2.8,"c":-0.6},{"x":30.5,"y":35.2,"c":-0.2},{"x":32.7,"y":34.4,"c":-0.2},{"x":35.7,"y":36,"c":-0.5},{"x":33,"y":25,"c":-0.2},{"x":35,"y":25,"c":-0.2},{"x":36,"y":47,"c":-0.2},{"x":41.3,"y":68,"c":-0.1},{"x":47.6,"y":72,"c":-0.2},{"x":45,"y":75,"c":-0.1},{"x":39.5,"y":30,"c":-0.3},{"x":41.5,"y":29,"c":-0.3},{"x":35.5,"y":20,"c":-0.3},{"x":38.5,"y":20,"c":-0.4},{"x":40,"y":18,"c":-0.5},{"x":26.3,"y":8,"c":-0.2},{"x":24.5,"y":16,"c":-0.1},
{"x":75.2,"y":137.4,"c":-0.5},{"x":71.3,"y":137.4,"c":-0.4},{"x":73.3,"y":131.5,"c":-0.5},{"x":76.7,"y":130.4,"c":-0.5},{"x":77.2,"y":130,"c":-0.4},{"x":76.8,"y":117.6,"c":-0.6},{"x":76.3,"y":108.3,"c":-0.4},{"x":76.8,"y":109,"c":-0.6},{"x":76.7,"y":100,"c":-0.5},{"x":75.3,"y":104.2,"c":-0.4},{"x":73.4,"y":93.6,"c":-0.4},{"x":74.1,"y":100.7,"c":-0.4},{"x":72.6,"y":103.1,"c":-0.6},{"x":72.8,"y":110.2,"c":-0.4},{"x":74.2,"y":117.3,"c":-0.4},{"x":73.7,"y":121.3,"c":-0.7},{"x":71.3,"y":121.6,"c":-0.6},{"x":69.65,"y":116,"c":-0.4},{"x":68.8,"y":130,"c":-0.4},{"x":65,"y":129.5,"c":-0.4},{"x":68.35,"y":114.5,"c":-0.4},{"x":62.2,"y":103.1,"c":-0.3},{"x":62.7,"y":100,"c":-0.3},{"x":64.4,"y":103.1,"c":-0.3},{"x":65.8,"y":103.4,"c":-0.3},{"x":66.3,"y":102.3,"c":-0.3},{"x":70.5,"y":107.8,"c":-0.7},{"x":71,"y":113.4,"c":-0.4},{"x":71,"y":103.1,"c":-0.4},{"x":71.2,"y":100,"c":-0.4},{"x":71.65,"y":95.5,"c":-0.4},{"x":70.5,"y":92.1,"c":-0.5},{"x":71.4,"y":88.1,"c":-0.4},{"x":70.7,"y":88.1,"c":-0.3},{"x":71,"y":82.6,"c":-0.4},{"x":69.5,"y":88.1,"c":-0.3},{"x":69,"y":90.5,"c":-0.5},{"x":68.2,"y":86.5,"c":-0.8},{"x":67.55,"y":83.4,"c":-0.6},{"x":67.1,"y":86.5,"c":-0.5},{"x":67.5,"y":75.5,"c":-0.7},{"x":66.2,"y":82.1,"c":-0.6},{"x":67.3,"y":94.4,"c":-0.5},{"x":68.35,"y":96.8,"c":-0.6},{"x":67.8,"y":100,"c":-0.6},{"x":68.35,"y":102.3,"c":-0.5},{"x":70,"y":99.2,"c":-0.3},{"x":69.6,"y":95.2,"c":-0.3},{"x":65.3,"y":99.2,"c":-0.4},{"x":65.2,"y":91.3,"c":-0.5},{"x":64.9,"y":86.5,"c":-0.7},{"x":64.7,"y":79.4,"c":-0.6},{"x":65.4,"y":79,"c":-0.4},{"x":63.9,"y":71.5,"c":-0.6},{"x":63.5,"y":66.8,"c":-0.4},{"x":64.1,"y":78.6,"c":-0.4},{"x":62.9,"y":83.4,"c":-0.7},{"x":62.7,"y":77,"c":-0.6},{"x":62.3,"y":73.1,"c":-0.7},{"x":61.8,"y":66,"c":-0.4},{"x":61.8,"y":70.8,"c":-0.6},{"x":61.1,"y":74.7,"c":-0.6},{"x":60.8,"y":81.8,"c":-0.5},{"x":61.9,"y":84.2,"c":-0.3},{"x":61.8,"y":95.2,"c":-0.3},{"x":59.7,"y":71.5,"c":-0.7},{"x":60.25,"y":76.3,"c":-0.3},{"x":59.9,"y":66.8,"c":-0.7},{"x":60.3,"y":65.2,"c":-0.7},{"x":60.8,"y":67.6,"c":-0.4},{"x":58.9,"y":72.3,"c":-0.3},{"x":58.7,"y":66.8,"c":-0.3},{"x":58.7,"y":62.9,"c":-0.4},{"x":57,"y":62,"c":-0.3},{"x":58,"y":78.6,"c":-0.7},{"x":57.4,"y":84.2,"c":-0.6},{"x":58.3,"y":86.5,"c":-0.5},{"x":57,"y":75.5,"c":-0.6},{"x":57.5,"y":70,"c":-0.6},{"x":63.3,"y":93.6,"c":-0.3},{"x":63.9,"y":96.8,"c":-0.3},{"x":64.3,"y":100,"c":-0.3},{"x":63.4,"y":88.1,"c":-0.3},{"x":63.8,"y":75.5,"c":-0.3},{"x":62.8,"y":86.5,"c":-0.5},{"x":65.9,"y":100,"c":-0.3},{"x":66.3,"y":93,"c":-0.3},
{"x":20.45,"y":0,"c":-0.3},{"x":23.7,"y":0,"c":-0.5},{"x":24.7,"y":0,"c":-0.6},{"x":25.5,"y":0,"c":0},{"x":26.3,"y":0,"c":0.1},{"x":27.3,"y":0,"c":-0.6},{"x":28.1,"y":0,"c":-0.5},{"x":29,"y":0,"c":-0.7},{"x":29.9,"y":0,"c":-0.3},{"x":30.7,"y":0,"c":-0.6},{"x":31.6,"y":0,"c":-0.5},{"x":32.5,"y":0,"c":-0.4},{"x":33.4,"y":0,"c":-0.6},{"x":34.3,"y":0,"c":-0.5},{"x":35.2,"y":0,"c":-0.4},{"x":36,"y":0,"c":-0.5},{"x":36.6,"y":0,"c":-0.8},{"x":37.5,"y":0,"c":-0.4},{"x":38.4,"y":0,"c":-0.7},{"x":39.6,"y":0,"c":-0.5},{"x":40.6,"y":0,"c":-0.7},{"x":41.3,"y":0.5,"c":-0.8},
{"x":37.2,"y":5.2,"c":-0.8},{"x":25.7,"y":-5,"c":-0.6},{"x":26.2,"y":-5.9,"c":-0.6},{"x":26.8,"y":-5,"c":-0.6},{"x":28.15,"y":-5.9,"c":-0.6},{"x":30.5,"y":-5,"c":-0.4},{"x":32,"y":-4,"c":-0.5},{"x":35,"y":-7.4,"c":-0.4},{"x":41.15,"y":-5.9,"c":-0.4},{"x":36.3,"y":-4.3,"c":-0.4},{"x":24.9,"y":-13.7,"c":-0.3},{"x":28,"y":-10.6,"c":-0.5},{"x":29.5,"y":-14.5,"c":-0.4},{"x":29.8,"y":-9.8,"c":-0.4},{"x":30.3,"y":-9.8,"c":-0.4},{"x":31,"y":-10.1,"c":-0.4},{"x":32.1,"y":-12.6,"c":-0.3},{"x":32.5,"y":-16.1,"c":-0.5},{"x":34.55,"y":-13.7,"c":-0.4},{"x":35.4,"y":-14.5,"c":-0.4},{"x":26.2,"y":-16.9,"c":-0.4},{"x":28,"y":-19.3,"c":-0.6},{"x":29.2,"y":-20,"c":-0.6},{"x":27.3,"y":-24.8,"c":-0.4},{"x":32.45,"y":-23.2,"c":-0.4},{"x":30.2,"y":-27.5,"c":-0.7},{"x":34,"y":-27.2,"c":-0.5},{"x":39.7,"y":-27.2,"c":-0.4},{"x":33.4,"y":-36.6,"c":-0.4},{"x":32.8,"y":-39.8,"c":-0.4},{"x":28.4,"y":-50,"c":-0.4},{"x":31.55,"y":-64.7,"c":-0.5},{"x":29.4,"y":-66.6,"c":-0.6},
{"x":43,"y":157,"c":-0.3}
]},
"mark":{"type":"circle","size":250,"opacity":0.8},
"encoding":{"color":{"field":"c","type":"quantitative","scale":{"domain":[-1,-0.5,0,0.4,1],"range":["#5a2f85","#8550ae","#7c84bd","#5a9bbd","#a9c6da"]},"legend":{"orient":"none","direction":"horizontal","legendX":1440,"legendY":199,"title":["Relative level of cross-border","trades with the Core region","(Germany and Belgium)"],"titleFont":"Lato","titleFontSize":24,"titleFontWeight":"normal","titleColor":"#444444","titleAlign":"center","titleAnchor":"middle","titleLimit":500,"titleLineHeight":29,"titlePadding":71,"gradientLength":304,"gradientThickness":28,"gradientStrokeWidth":0,"values":[-0.5,0,0.5,1],"format":".1f","labelFont":"Lato","labelFontSize":20,"labelColor":"#666666","labelOverlap":false,"labelOffset":6,"padding":0}}}},
{"data":{"values":[{"x":10,"x2":80,"y":0}]},"mark":{"type":"rule","color":"#4d4d66","strokeWidth":2},"encoding":{"x2":{"field":"x2"}}},
{"data":{"values":[{"o":1,"x":80,"y":87.5},{"o":2,"x":79,"y":101.9},{"o":3,"x":76.4,"y":114},{"o":4,"x":72.3,"y":122.2},{"o":5,"x":67.6,"y":125},{"o":6,"x":62.9,"y":122.2},{"o":7,"x":58.8,"y":114},{"o":8,"x":56.2,"y":101.9},{"o":9,"x":55.2,"y":87.5},{"o":10,"x":56.2,"y":73.1},{"o":11,"x":58.8,"y":61},{"o":12,"x":62.9,"y":52.8},{"o":13,"x":67.6,"y":50},{"o":14,"x":72.3,"y":52.8},{"o":15,"x":76.4,"y":61},{"o":16,"x":79,"y":73.1}]},"mark":{"type":"line","interpolate":"cardinal-closed","color":"#6cc6e2","strokeWidth":3.5},"encoding":{"order":{"field":"o"}}},
{"data":{"values":[{"o":1,"x":16.8,"y":18.75},{"o":2,"x":40.2,"y":161}]},"mark":{"type":"line","color":"#6cc6e2","strokeWidth":3.5},"encoding":{"order":{"field":"o"}}},
{"data":{"values":[{"x":40.3,"y":161.5}]},"mark":{"type":"point","shape":"triangle-up","filled":true,"opacity":1,"color":"#6cc6e2","size":170,"angle":55.5}},
{"data":{"values":[{"g":"a","o":1,"x":44.7,"y":-56.25},{"g":"a","o":2,"x":35.2,"y":-29},{"g":"b","o":1,"x":44.7,"y":-56.25},{"g":"b","o":2,"x":33,"y":-64}]},"mark":{"type":"line","color":"#26343c","strokeWidth":2.2},"encoding":{"detail":{"field":"g"},"order":{"field":"o"}}},
{"data":{"values":[{"x":35,"y":-28.4}]},"mark":{"type":"point","shape":"triangle-up","filled":true,"opacity":1,"color":"#26343c","size":120,"angle":288}},
{"data":{"values":[{"x":32.8,"y":-64.2}]},"mark":{"type":"point","shape":"triangle-up","filled":true,"opacity":1,"color":"#26343c","size":120,"angle":266}},
{"data":{"values":[{"g":"i","o":1,"x":87.1,"y":-8.75},{"g":"i","o":2,"x":94.8,"y":-8.75},{"g":"e","o":1,"x":95.2,"y":-8.75},{"g":"e","o":2,"x":102.9,"y":-8.75}]},"mark":{"type":"line","strokeWidth":2},"encoding":{"detail":{"field":"g"},"order":{"field":"o"},"color":{"field":"g","type":"nominal","scale":{"domain":["i","e"],"range":["#8a7fce","#5b9ab5"]},"legend":null}}},
{"data":{"values":[{"k":"i","x":87.1,"y":-8.75},{"k":"i2","x":95.2,"y":-8.75}]},"mark":{"type":"point","shape":"triangle-left","filled":true,"opacity":1,"size":60},"encoding":{"color":{"field":"k","type":"nominal","scale":{"domain":["i","i2"],"range":["#8a7fce","#5b9ab5"]},"legend":null}}},
{"data":{"values":[{"k":"e","x":94.8,"y":-8.75},{"k":"e2","x":102.9,"y":-8.75}]},"mark":{"type":"point","shape":"triangle-right","filled":true,"opacity":1,"size":60},"encoding":{"color":{"field":"k","type":"nominal","scale":{"domain":["e","e2"],"range":["#8a7fce","#5b9ab5"]},"legend":null}}},
{"data":{"values":[{"g":"i","o":1,"x":86.95,"y":-63.4},{"g":"i","o":2,"x":86.95,"y":-50},{"g":"e","o":1,"x":103.03,"y":-63.4},{"g":"e","o":2,"x":103.03,"y":-50}]},"mark":{"type":"line","strokeWidth":3},"encoding":{"detail":{"field":"g"},"order":{"field":"o"},"color":{"field":"g","type":"nominal","scale":{"domain":["i","e"],"range":["#7d70cc","#4f90ad"]},"legend":null}}},
{"data":{"values":[{"k":"i","x":86.95,"y":-48.5},{"k":"e","x":103.03,"y":-48.5}]},"mark":{"type":"point","shape":"triangle-up","filled":true,"opacity":1,"size":400},"encoding":{"color":{"field":"k","type":"nominal","scale":{"domain":["i","e"],"range":["#7d70cc","#4f90ad"]},"legend":null}}},
{"data":{"values":[{"x":89.1,"y":93.75}]},"mark":{"type":"circle","size":200,"opacity":1,"color":"#9b94d8"}},
{"data":{"values":[{"x":13.8,"y":214.4,"t":"When consumption increases,"},{"x":13.8,"y":195.6,"t":"the price rises and France imports"},{"x":13.8,"y":176.9,"t":"more and more frequently"},{"x":58.65,"y":214.4,"t":"Imports from Germany and Belgium help to"},{"x":58.65,"y":195.6,"t":"moderate price increases when consumption"},{"x":58.65,"y":176.9,"t":"levels are very high"}]},"mark":{"type":"text","font":"Lato","fontWeight":"bold","fontSize":34.5,"color":"#79cbe6","align":"left","baseline":"middle"},"encoding":{"text":{"field":"t"}}},
{"data":{"values":[{"x":45.36,"y":-40.6,"t":"Situations where France imports when"},{"x":45.36,"y":-59.4,"t":"prices are negative: in these cases, prices"},{"x":45.36,"y":-77.5,"t":"are more negative in the Core region."}]},"mark":{"type":"text","font":"Lato","fontSize":33,"color":"#222222","align":"left","baseline":"middle"},"encoding":{"text":{"field":"t"}}},
{"data":{"values":[{"x":90.4,"y":93.75,"t":"One dot = one hour"}]},"mark":{"type":"text","font":"Lato","fontSize":24,"color":"#444444","align":"left","baseline":"middle"},"encoding":{"text":{"field":"t"}}},
{"data":{"values":[{"x":87.4,"y":-71.25,"t":"Maximum","k":"i"},{"x":87.4,"y":-83.1,"t":"imports","k":"i"},{"x":87.4,"y":-94.4,"t":"from Core","k":"i"},{"x":103,"y":-71.25,"t":"Maximum","k":"e"},{"x":103,"y":-83.1,"t":"exports","k":"e"},{"x":103,"y":-94.4,"t":"to Core","k":"e"}]},"mark":{"type":"text","font":"Lato","fontWeight":"bold","fontSize":23,"align":"center","baseline":"middle"},"encoding":{"text":{"field":"t"},"color":{"field":"k","type":"nominal","scale":{"domain":["i","e"],"range":["#8272cf","#5a97b3"]},"legend":null}}},
{"data":{"values":[{"x":90.6,"y":0.6,"t":"Imports","k":"i"},{"x":99.5,"y":0.6,"t":"Exports","k":"e"}]},"mark":{"type":"text","font":"Lato","fontSize":25,"align":"center","baseline":"middle"},"encoding":{"text":{"field":"t"},"color":{"field":"k","type":"nominal","scale":{"domain":["i","e"],"range":["#8a7fce","#5a97b3"]},"legend":null}}},
{"data":{"values":[{"x":48,"y":20.4,"t":"with the Core region (January"}]},"mark":{"type":"text","font":"Liberation Serif","fontSize":50,"color":"#ffffff","align":"right","baseline":"alphabetic"},"encoding":{"text":{"field":"t"}}}
],
"resolve":{"scale":{"color":"independent"}}}
